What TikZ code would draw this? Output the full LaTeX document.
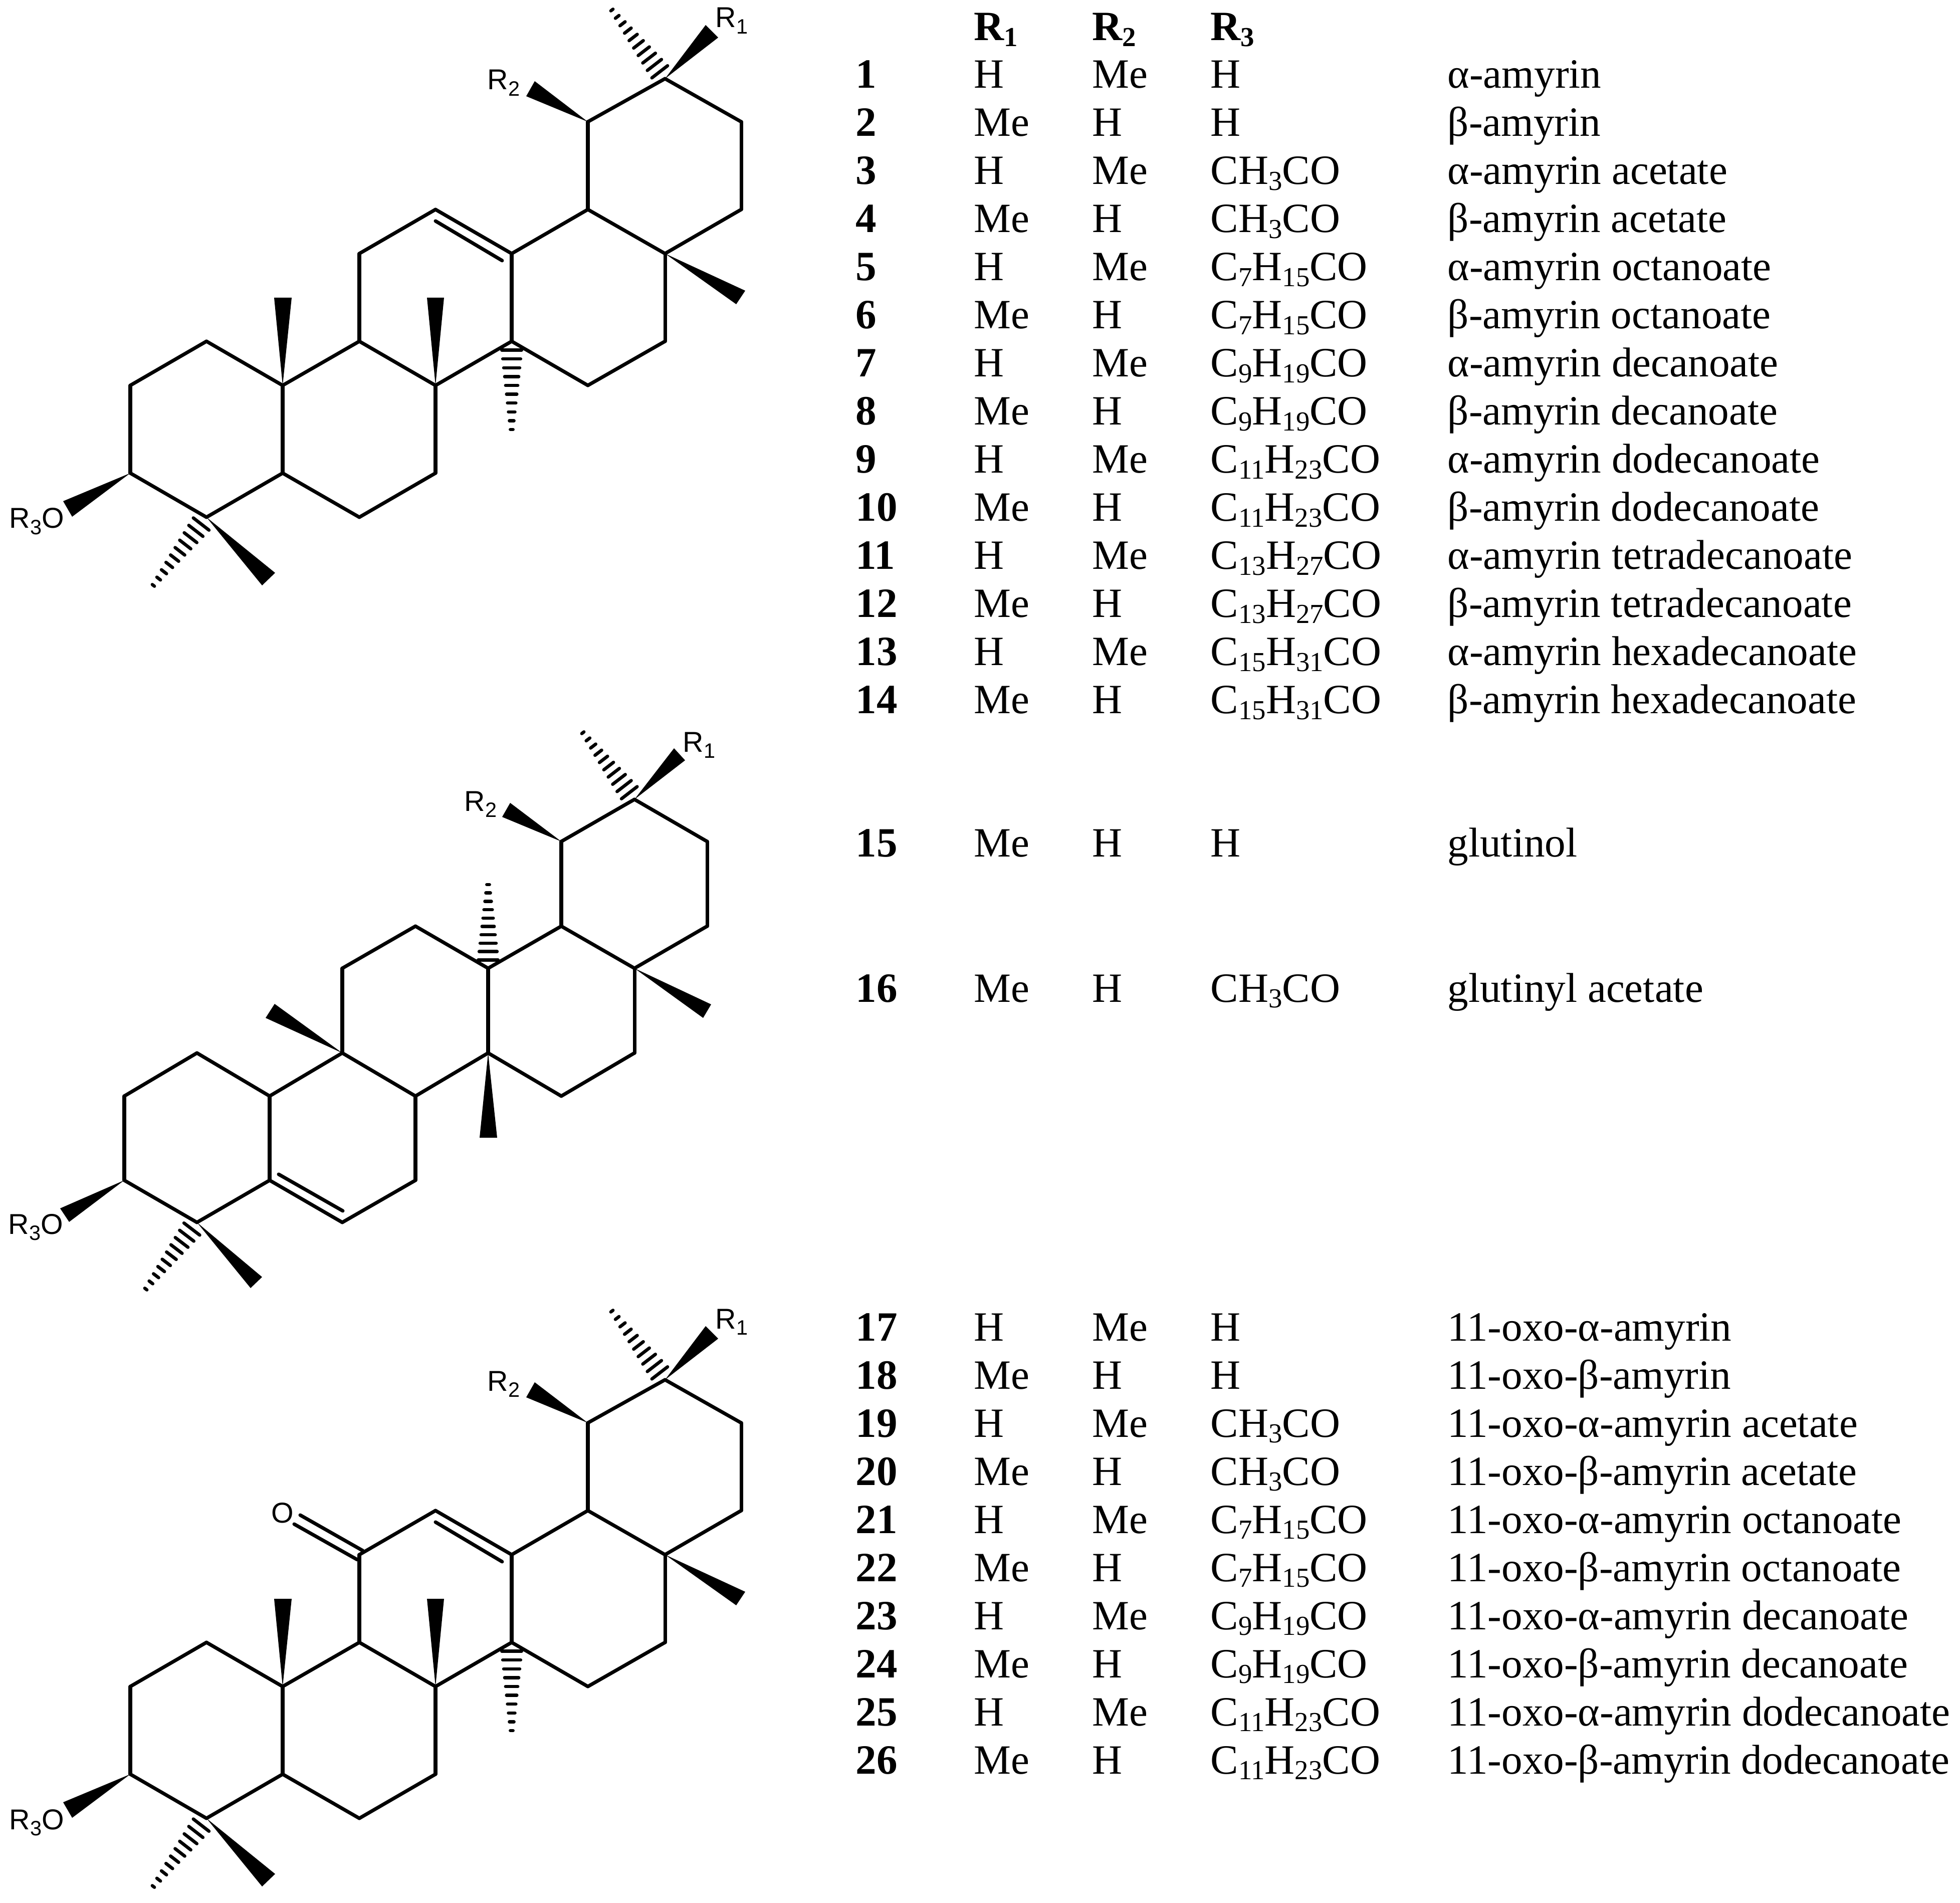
\documentclass[tikz,border=0pt]{standalone}
\usepackage{fontspec}
\setmainfont{Liberation Serif}
\newfontfamily\atomfont{Liberation Sans}
\usepackage{tkz-euclide}
\usetikzlibrary{calc}

\newcommand\TabSub[1]{\raisebox{-3.4pt}{\fontsize{15.6}{18}\selectfont #1}}
\newcommand\AtomSub[1]{\raisebox{-3.5pt}{\fontsize{11.8}{14}\selectfont #1}}

\tikzset{
  tabletext/.style={font=\fontsize{23.65}{28}\selectfont,anchor=base west,inner sep=0pt},
  atomlabel/.style={font=\atomfont\fontsize{16.3}{19}\selectfont,anchor=base west,inner sep=0pt},
  hashline/.style={line width=1.85pt,line cap=round}
}

% Hashed bond: stripes get narrower from the ring atom outwards.
\newcommand\HashBond[2]{%
  \foreach \st in {0.1,0.2,...,1.0}{%
    \pgfmathsetmacro\hw{0.027+0.19*(1-\st)}
    \draw[hashline] ($(#1)!\st!(#2)!\hw cm!90:(#2)$) -- ($(#1)!\st!(#2)!\hw cm!-90:(#2)$);
  }%
}

% The pentacyclic skeleton that compounds 1-14 and 17-26 share.
\newcommand\AmyrinFrame[1]{%
  \tkzDefPoints{13.27/-1.57/#1A,11.73/-2.43/#1B,14.79/-2.43/#1C,14.79/-4.18/#1D,
    11.73/-4.18/#1E,13.27/-5.06/#1F,10.21/-5.06/#1G,8.69/-4.18/#1H,7.17/-5.06/#1I,
    7.17/-6.81/#1J,10.21/-6.81/#1K,11.73/-7.69/#1L,13.27/-6.81/#1M,8.69/-7.69/#1N,
    5.64/-7.69/#1O,4.12/-6.81/#1P,2.60/-7.69/#1Q,2.60/-9.44/#1R,4.12/-10.32/#1S,
    5.64/-9.44/#1T,7.17/-10.32/#1U,8.69/-9.44/#1V}
  \tkzDefPoints{14.08/-0.50/#1a,14.33/-0.75/#1b,12.21/-0.20/#1c,10.67/-1.62/#1d,
    10.50/-1.92/#1e,14.87/-5.80/#1f,14.69/-6.07/#1g,5.47/-5.94/#1h,5.82/-5.94/#1i,
    8.52/-5.94/#1j,8.86/-5.94/#1k,10.21/-8.57/#1l,1.26/-10.00/#1m,1.44/-10.31/#1n,
    3.06/-11.68/#1o,5.49/-11.43/#1p,5.23/-11.68/#1q,8.69/-4.41/#1r,10.02/-5.20/#1s}
  \tkzDrawSegments(#1A,#1B #1A,#1C #1C,#1D #1D,#1F #1F,#1E #1E,#1B #1E,#1G #1G,#1H
    #1H,#1I #1I,#1J #1J,#1O #1J,#1N #1N,#1K #1K,#1G #1K,#1L #1L,#1M #1M,#1F #1N,#1V
    #1V,#1U #1U,#1T #1T,#1O #1O,#1P #1P,#1Q #1Q,#1R #1R,#1S #1S,#1T #1r,#1s)
  \tkzFillPolygon[fill=black](#1A,#1a,#1b)
  \tkzFillPolygon[fill=black](#1B,#1d,#1e)
  \tkzFillPolygon[fill=black](#1F,#1f,#1g)
  \tkzFillPolygon[fill=black](#1O,#1h,#1i)
  \tkzFillPolygon[fill=black](#1N,#1j,#1k)
  \tkzFillPolygon[fill=black](#1R,#1m,#1n)
  \tkzFillPolygon[fill=black](#1S,#1p,#1q)
  \HashBond{#1A}{#1c}
  \HashBond{#1K}{#1l}
  \HashBond{#1S}{#1o}
  \node[atomlabel] (#1Rone) at (14.27,-0.55) {R\AtomSub{1}};
  \node[atomlabel] (#1Rtwo) at (9.72,-1.79) {R\AtomSub{2}};
  \node[atomlabel] (#1Rthree) at (0.18,-10.54) {R\AtomSub{3}O};
}

\begin{document}
\begin{tikzpicture}
\tkzSetUpLine[line width=2pt,color=black,line cap=round]
\useasboundingbox (0,0) rectangle (39.11,-37.97);

% Compounds 1-14.
\AmyrinFrame{u}

% Compounds 15 and 16.
\tkzDefPoints{12.66/-15.95/gA,11.20/-16.79/gB,14.11/-16.79/gC,14.11/-18.48/gD,
  11.20/-18.48/gE,12.66/-19.32/gF,9.74/-19.32/gG,8.29/-18.48/gH,6.83/-19.32/gI,
  6.83/-21.01/gJ,9.74/-21.01/gK,11.20/-21.87/gL,12.66/-21.01/gM,8.29/-21.87/gN,
  5.38/-21.87/gO,3.93/-21.01/gP,2.48/-21.87/gQ,2.48/-23.55/gR,3.93/-24.39/gS,
  5.38/-23.55/gT,6.83/-24.39/gU,8.29/-23.55/gV}
\tkzDefPoints{13.45/-14.93/ga,13.67/-15.17/gb,11.63/-14.62/gc,10.18/-16.02/gd,
  10.02/-16.30/ge,14.19/-20.04/gf,14.03/-20.31/gh,9.74/-17.65/gi,5.48/-20.03/gj,
  5.30/-20.31/gk,9.57/-22.70/gl,9.92/-22.70/gm,1.20/-24.11/gn,1.38/-24.38/go,
  2.91/-25.72/gp,5.23/-25.48/gq,5.00/-25.70/gr,5.56/-23.43/gs,6.84/-24.16/gt}
\tkzDrawSegments(gA,gB gA,gC gC,gD gD,gF gF,gE gE,gB gE,gG gG,gH gH,gI gI,gJ gJ,gO
  gJ,gN gN,gK gK,gG gK,gL gL,gM gM,gF gN,gV gV,gU gU,gT gT,gO gO,gP gP,gQ gQ,gR
  gR,gS gS,gT gs,gt)
\tkzFillPolygon[fill=black](gA,ga,gb)
\tkzFillPolygon[fill=black](gB,gd,ge)
\tkzFillPolygon[fill=black](gF,gf,gh)
\tkzFillPolygon[fill=black](gJ,gj,gk)
\tkzFillPolygon[fill=black](gK,gl,gm)
\tkzFillPolygon[fill=black](gR,gn,go)
\tkzFillPolygon[fill=black](gS,gq,gr)
\HashBond{gA}{gc}
\HashBond{gG}{gi}
\HashBond{gS}{gp}
\node[atomlabel] (gRone) at (13.62,-15.00) {R\AtomSub{1}};
\node[atomlabel] (gRtwo) at (9.26,-16.18) {R\AtomSub{2}};
\node[atomlabel] (gRthree) at (0.16,-24.62) {R\AtomSub{3}O};

% Compounds 17-26: the same frame with a ketone.
\begin{scope}[yshift=-25.96cm]
\AmyrinFrame{w}
\tkzDefPoints{5.99/-4.27/wOa,7.24/-4.98/wOb,5.87/-4.45/wOc,7.13/-5.16/wOd}
\tkzDrawSegments(wOa,wOb wOc,wOd)
\node[atomlabel] (wOxo) at (5.41,-4.42) {O};
\end{scope}

% Column heads.
\node[tabletext] (headRone) at (19.43,-0.81) {\textbf{R\TabSub{1}}};
\node[tabletext] (headRtwo) at (21.79,-0.81) {\textbf{R\TabSub{2}}};
\node[tabletext] (headRthree) at (24.15,-0.81) {\textbf{R\TabSub{3}}};

% Rows of the table.
\foreach \rowy/\num/\ra/\rb/\rc/\nm in {
  1.757/1/H/Me/H/α-amyrin,
  2.717/2/Me/H/H/β-amyrin,
  3.677/3/H/Me/CH\TabSub{3}CO/α-amyrin acetate,
  4.637/4/Me/H/CH\TabSub{3}CO/β-amyrin acetate,
  5.597/5/H/Me/C\TabSub{7}H\TabSub{15}CO/α-amyrin octanoate,
  6.557/6/Me/H/C\TabSub{7}H\TabSub{15}CO/β-amyrin octanoate,
  7.517/7/H/Me/C\TabSub{9}H\TabSub{19}CO/α-amyrin decanoate,
  8.477/8/Me/H/C\TabSub{9}H\TabSub{19}CO/β-amyrin decanoate,
  9.437/9/H/Me/C\TabSub{11}H\TabSub{23}CO/α-amyrin dodecanoate,
  10.397/10/Me/H/C\TabSub{11}H\TabSub{23}CO/β-amyrin dodecanoate,
  11.357/11/H/Me/C\TabSub{13}H\TabSub{27}CO/α-amyrin tetradecanoate,
  12.317/12/Me/H/C\TabSub{13}H\TabSub{27}CO/β-amyrin tetradecanoate,
  13.277/13/H/Me/C\TabSub{15}H\TabSub{31}CO/α-amyrin hexadecanoate,
  14.237/14/Me/H/C\TabSub{15}H\TabSub{31}CO/β-amyrin hexadecanoate,
  17.09/15/Me/H/H/glutinol,
  19.99/16/Me/H/CH\TabSub{3}CO/glutinyl acetate,
  26.75/17/H/Me/H/11-oxo-α-amyrin,
  27.71/18/Me/H/H/11-oxo-β-amyrin,
  28.67/19/H/Me/CH\TabSub{3}CO/11-oxo-α-amyrin acetate,
  29.63/20/Me/H/CH\TabSub{3}CO/11-oxo-β-amyrin acetate,
  30.59/21/H/Me/C\TabSub{7}H\TabSub{15}CO/11-oxo-α-amyrin octanoate,
  31.55/22/Me/H/C\TabSub{7}H\TabSub{15}CO/11-oxo-β-amyrin octanoate,
  32.51/23/H/Me/C\TabSub{9}H\TabSub{19}CO/11-oxo-α-amyrin decanoate,
  33.47/24/Me/H/C\TabSub{9}H\TabSub{19}CO/11-oxo-β-amyrin decanoate,
  34.43/25/H/Me/C\TabSub{11}H\TabSub{23}CO/11-oxo-α-amyrin dodecanoate,
  35.39/26/Me/H/C\TabSub{11}H\TabSub{23}CO/11-oxo-β-amyrin dodecanoate}{
  \node[tabletext] (num\num) at (17.07,-\rowy) {\textbf{\num}};
  \node[tabletext] (ra\num) at (19.43,-\rowy) {\ra};
  \node[tabletext] (rb\num) at (21.79,-\rowy) {\rb};
  \node[tabletext] (rc\num) at (24.15,-\rowy) {\rc};
  \node[tabletext] (name\num) at (28.88,-\rowy) {\nm};
}

\end{tikzpicture}
\end{document}
